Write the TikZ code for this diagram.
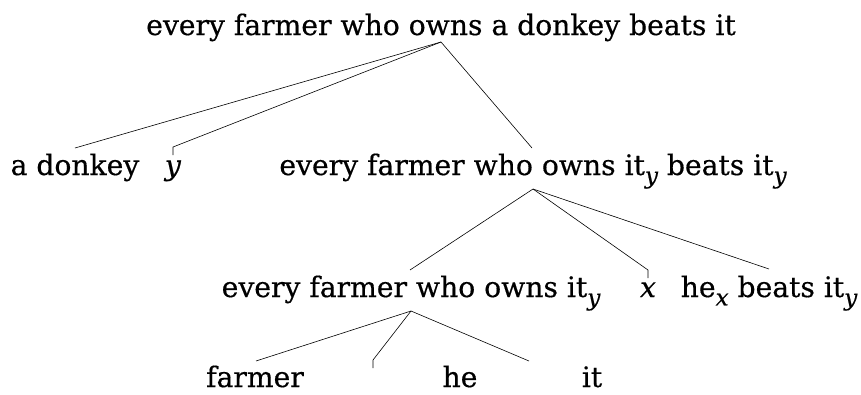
\documentclass[tikz,border=0pt]{standalone}
\usepackage{fontspec}
\setmainfont{DejaVu Serif}[FakeBold=0.5]
\newcommand{\subv}[1]{\raisebox{-0.3em}{\fontsize{23}{25}\selectfont\itshape #1}}
\begin{document}
\begin{tikzpicture}[x=1pt,y=-1pt,
  word/.style={font=\fontsize{28.2}{32}\selectfont, inner sep=0pt, anchor=base},
  branch/.style={line width=0.6pt, line join=miter}]
\useasboundingbox (0,0) rectangle (861,394);
% nodes
\node[word] (top) at (441,35) {every farmer who owns a donkey beats it};
\node[word] (donkey) at (75,175) {a donkey};
\node[word] (yv) at (173,175) {\textit{y}};
\node[word] (s2) at (533,175) {every farmer who owns it\subv{y} beats it\subv{y}};
\node[word] (s3) at (411,297) {every farmer who owns it\subv{y}};
\node[word] (xv) at (648,297) {\textit{x}};
\node[word] (s4) at (769,297) {he\subv{x} beats it\subv{y}};
\node[word] (farmer) at (255,387) {farmer};
\node[word] (he) at (460,387) {he};
\node[word] (it) at (592,387) {it};
% branch points
\coordinate (a1) at (441,42);
\coordinate (a2) at (533,189);
\coordinate (a3) at (411,311);
\coordinate (eDonkey) at (75,148);
\coordinate (eY) at (173,147);
\coordinate (tY) at (173,155);
\coordinate (eS2) at (532,148);
\coordinate (eS3) at (410,270);
\coordinate (eX) at (648,270);
\coordinate (tX) at (648,278);
\coordinate (eS4) at (769,269);
\coordinate (eFarmer) at (256,361);
\coordinate (eEmpty) at (373,360);
\coordinate (tEmpty) at (373,368);
\coordinate (eThird) at (529,361);
% connectors
\draw[branch] (a1) -- (eDonkey);
\draw[branch] (a1) -- (eY) -- (tY);
\draw[branch] (a1) -- (eS2);
\draw[branch] (a2) -- (eS3);
\draw[branch] (a2) -- (eX) -- (tX);
\draw[branch] (a2) -- (eS4);
\draw[branch] (a3) -- (eFarmer);
\draw[branch] (a3) -- (eEmpty) -- (tEmpty);
\draw[branch] (a3) -- (eThird);
\end{tikzpicture}
\end{document}
